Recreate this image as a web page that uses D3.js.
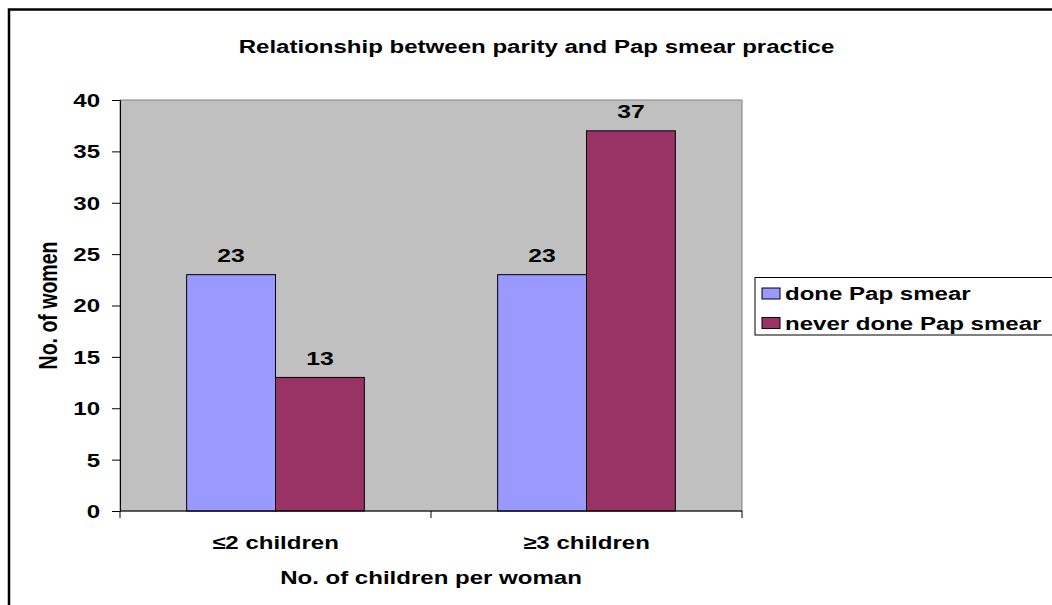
<!DOCTYPE html>
<html>
<head>
<meta charset="utf-8">
<script src="https://cdn.jsdelivr.net/npm/d3@7"></script>
<style>
  body { margin: 0; background: #fff; }
  text { font-family: "Liberation Sans", Arial, sans-serif; font-weight: bold; fill: #000; }
</style>
</head>
<body>
<div id="chart"></div>
<script>
// data
var categories = ["\u22642 children", "\u22653 children"];
var seriesNames = ["done Pap smear", "never done Pap smear"];
var doneValues = [23, 23];
var neverValues = [13, 37];
var colors = ["#9999ff", "#993366"];
var yTicks = [0, 5, 10, 15, 20, 25, 30, 35, 40];

var W = 1052, H = 605;
var plot = {left: 120, top: 100, right: 742, bottom: 511};
var sx = 1.3;        // the original text is stretched sideways
var fs = "18.5px";

var svg = d3.select("#chart").append("svg")
    .attr("width", W)
    .attr("height", H);

// draws a text stretched horizontally around (x, y)
function label(parent, x, y, str, anchor, size) {
    return parent.append("text")
        .attr("transform", "translate(" + x + "," + y + ")scale(" + sx + ",1)")
        .attr("text-anchor", anchor || "middle")
        .style("font-size", size || fs)
        .text(str);
}

// outer chart border
svg.append("rect")
    .attr("x", 9).attr("y", 9.5)
    .attr("width", W + 20).attr("height", H + 20)
    .attr("fill", "none")
    .attr("stroke", "#000")
    .attr("stroke-width", 2.5);

var x0 = d3.scaleBand()
    .domain(categories)
    .range([plot.left, plot.right]);

var x1 = d3.scaleBand()
    .domain(seriesNames)
    .range([0, x0.bandwidth()])
    .paddingInner(0)
    .paddingOuter(0.75);

var y = d3.scaleLinear()
    .domain([0, 40])
    .range([plot.bottom, plot.top]);

// plot area
svg.append("rect")
    .attr("x", plot.left).attr("y", plot.top)
    .attr("width", plot.right - plot.left)
    .attr("height", plot.bottom - plot.top)
    .attr("fill", "#c0c0c0")
    .attr("stroke", "#808080")
    .attr("stroke-width", 1);

var flat = [];
categories.forEach(function(c, i) {
    flat.push({cat: c, s: seriesNames[0], v: doneValues[i], color: colors[0]});
    flat.push({cat: c, s: seriesNames[1], v: neverValues[i], color: colors[1]});
});

svg.selectAll("rect.bar")
    .data(flat)
    .enter()
    .append("rect")
    .attr("class", "bar")
    .attr("x", function(d) { return x0(d.cat) + x1(d.s); })
    .attr("y", function(d) { return y(d.v); })
    .attr("width", x1.bandwidth())
    .attr("height", function(d) { return y(0) - y(d.v); })
    .attr("fill", function(d) { return d.color; })
    .attr("stroke", "#000")
    .attr("stroke-width", 1);

flat.forEach(function(d) {
    label(svg, x0(d.cat) + x1(d.s) + x1.bandwidth() / 2, y(d.v) - 12.5, d.v, "middle", "19px");
});

// y axis
var yAxis = d3.axisLeft(y).tickValues(yTicks).tickSize(8);
var gy = svg.append("g")
    .attr("transform", "translate(" + plot.left + ",0)")
    .call(yAxis);
gy.select(".domain").attr("stroke", "#000");
gy.selectAll(".tick line").attr("stroke", "#000");
gy.selectAll(".tick text")
    .attr("x", -20 / sx)
    .attr("dy", "0.35em")
    .attr("transform", "scale(" + sx + ",1)")
    .attr("fill", "#000")
    .style("font-size", fs)
    .style("font-family", "Liberation Sans, Arial, sans-serif")
    .style("font-weight", "bold");

// x axis: ticks at category boundaries
var gx = svg.append("g")
    .attr("transform", "translate(0," + plot.bottom + ")");
gx.append("line")
    .attr("x1", plot.left).attr("x2", plot.right)
    .attr("stroke", "#000");
var bounds = categories.map(function(c) { return x0(c); }).concat([plot.right]);
gx.selectAll("line.tk")
    .data(bounds)
    .enter()
    .append("line")
    .attr("class", "tk")
    .attr("x1", function(d) { return d; })
    .attr("x2", function(d) { return d; })
    .attr("y1", 0).attr("y2", 7)
    .attr("stroke", "#000");
categories.forEach(function(c) {
    label(gx, x0(c) + x0.bandwidth() / 2, 38, c);
});

// title
label(svg, 536.5, 52.5, "Relationship between parity and Pap smear practice");

// axis titles
svg.append("text")
    .attr("text-anchor", "middle")
    .attr("transform", "translate(56.5," + ((plot.top + plot.bottom) / 2) + ")scale(" + sx + ",1)rotate(-90)")
    .style("font-size", "19.5px")
    .text("No. of women");

label(svg, (plot.left + plot.right) / 2, 584, "No. of children per woman");

// legend
var lg = svg.append("g").attr("transform", "translate(755,277.5)");
lg.append("rect")
    .attr("width", 320).attr("height", 57.5)
    .attr("fill", "#fff")
    .attr("stroke", "#000")
    .attr("stroke-width", 1);
seriesNames.forEach(function(s, i) {
    var row = lg.append("g").attr("transform", "translate(7," + (10.5 + i * 29.5) + ")");
    row.append("rect")
        .attr("width", 18).attr("height", 11)
        .attr("fill", colors[i])
        .attr("stroke", "#000");
    label(row, 23, 12, s, "start");
});
</script>
</body>
</html>
